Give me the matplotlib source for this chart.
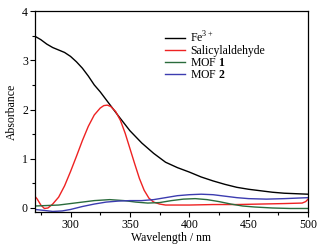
import numpy as np
import matplotlib.pyplot as plt
from matplotlib.ticker import MultipleLocator

plt.rcParams['font.family'] = ['Liberation Serif', 'DejaVu Serif']
plt.rcParams['mathtext.fontset'] = 'custom'
plt.rcParams['mathtext.rm'] = 'Liberation Serif'
plt.rcParams['mathtext.bf'] = 'Liberation Serif:bold'

# Fe3+
fe_x = [270, 275, 280, 285, 290, 295, 300, 305, 310, 315, 320, 325, 330, 340, 350, 360, 370, 380, 390,
        400, 410, 420, 430, 440, 450, 460, 470, 480, 490, 500]
fe_y = [3.49, 3.42, 3.33, 3.26, 3.21, 3.16, 3.08, 2.97, 2.84, 2.68, 2.50, 2.36, 2.20, 1.88, 1.57, 1.32,
        1.11, 0.93, 0.82, 0.73, 0.63, 0.55, 0.48, 0.42, 0.38, 0.35, 0.32, 0.30, 0.29, 0.28]

# salicylaldehyde
sal_x = [270, 272, 275, 278, 281, 285, 290, 295, 300, 305, 310, 315, 320, 325, 328, 331, 334, 338, 342,
         346, 350, 354, 358, 362, 366, 370, 375, 380, 390, 400, 420, 440, 460, 480, 495, 498, 500]
sal_y = [0.24, 0.18, 0.06, -0.01, 0.00, 0.08, 0.22, 0.45, 0.74, 1.05, 1.37, 1.66, 1.89, 2.03, 2.08, 2.09,
         2.06, 1.96, 1.78, 1.52, 1.21, 0.90, 0.60, 0.36, 0.20, 0.12, 0.08, 0.06, 0.06, 0.06, 0.07, 0.07,
         0.08, 0.09, 0.10, 0.13, 0.18]

# MOF 1
m1_x = [270, 280, 290, 300, 310, 320, 333, 345, 355, 365, 375, 385, 395, 405, 415, 425, 435, 445, 455,
        470, 485, 500]
m1_y = [0.04, 0.05, 0.06, 0.09, 0.12, 0.15, 0.17, 0.15, 0.12, 0.10, 0.11, 0.15, 0.18, 0.19, 0.17, 0.13,
        0.08, 0.04, 0.02, 0.00, -0.01, -0.01]

# MOF 2
m2_x = [270, 278, 285, 293, 300, 310, 320, 330, 340, 350, 360, 370, 380, 390, 400, 410, 420, 430, 440,
        450, 465, 480, 500]
m2_y = [-0.03, -0.05, -0.07, -0.06, -0.03, 0.03, 0.08, 0.12, 0.14, 0.15, 0.15, 0.17, 0.21, 0.25, 0.27,
        0.28, 0.27, 0.24, 0.21, 0.19, 0.18, 0.19, 0.21]

fig = plt.figure(figsize=(3.26, 2.47), dpi=100)
ax = fig.add_axes([0.107, 0.142, 0.838, 0.813])

ax.plot(fe_x, fe_y, color='black', lw=1.0, label='Fe$^{3+}$')
ax.plot(sal_x, sal_y, color='#ee2222', lw=1.0, label='Salicylaldehyde')
ax.plot(m1_x, m1_y, color='#2a6b3c', lw=1.0, label='MOF $\\mathbf{1}$')
ax.plot(m2_x, m2_y, color='#3c3cb0', lw=1.0, label='MOF $\\mathbf{2}$')

ax.set_xlim(270, 500)
ax.set_ylim(-0.08, 4)
ax.xaxis.set_major_locator(MultipleLocator(50))
ax.xaxis.set_minor_locator(MultipleLocator(25))
ax.yaxis.set_major_locator(MultipleLocator(1))
ax.yaxis.set_minor_locator(MultipleLocator(0.5))
ax.tick_params(which='both', direction='out', labelsize=8.5, pad=1.5)
ax.tick_params(which='major', length=3.5, width=0.8)
ax.tick_params(which='minor', length=2, width=0.8)
for s in ax.spines.values():
    s.set_linewidth(0.9)

ax.set_xlabel('Wavelength / nm', fontsize=8.5, labelpad=1)
ax.set_ylabel('Absorbance', fontsize=8.5, labelpad=3)

ax.legend(loc='upper left', bbox_to_anchor=(0.46, 0.93), frameon=False, fontsize=8.5,
          handlelength=1.7, handletextpad=0.4, labelspacing=0.0, borderaxespad=0)

fig.savefig('out.png', dpi=100)
